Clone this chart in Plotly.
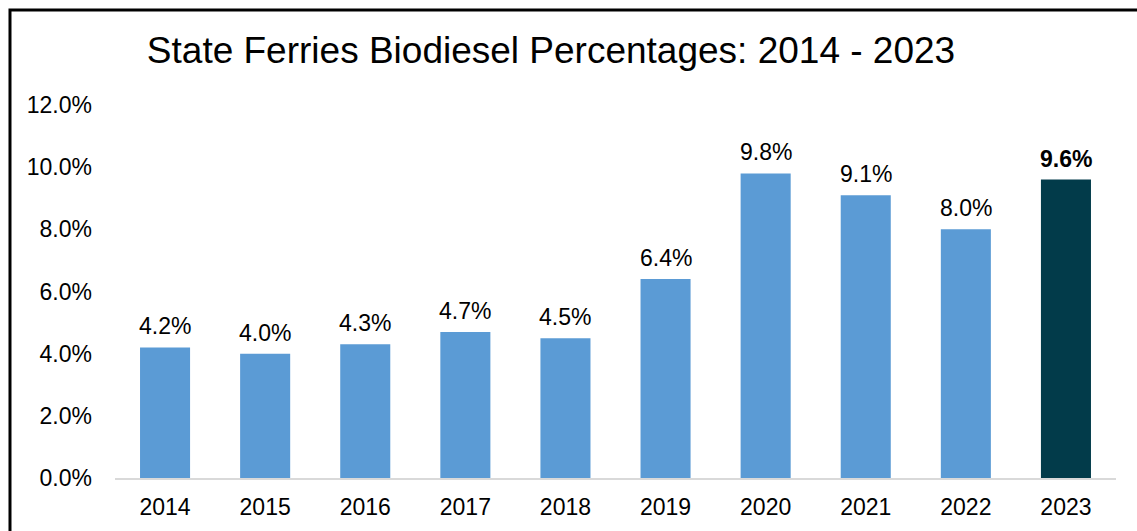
import plotly.graph_objects as go

# --- Data ---
years = ["2014", "2015", "2016", "2017", "2018", "2019", "2020", "2021", "2022", "2023"]
biodiesel_pct = [4.2, 4.0, 4.3, 4.7, 4.5, 6.4, 9.8, 9.1, 8.0, 9.6]
y_ticks = [0, 2, 4, 6, 8, 10, 12]

LIGHT = "#5B9BD5"
DARK = "#023B4A"
FONT = "Liberation Sans, Arial, sans-serif"

colors = [LIGHT] * (len(years) - 1) + [DARK]

fig = go.Figure()
fig.add_trace(go.Bar(
    x=years,
    y=biodiesel_pct,
    marker=dict(color=colors, line=dict(width=0)),
    hoverinfo="x+y",
))

# value labels above bars (last one bold); x given as category index
for i, v in enumerate(biodiesel_pct):
    label = f"{v:.1f}%"
    if i == len(years) - 1:
        label = f"<b>{label}</b>"
    fig.add_annotation(x=i, y=v, text=label, showarrow=False,
                       yanchor="bottom", yshift=6,
                       font=dict(family=FONT, size=23, color="#000000"))

# outer frame (runs off the right/bottom edges like the original)
fig.add_shape(type="rect", xref="paper", yref="paper",
              x0=-0.1049, x1=1.03, y0=-0.17, y1=1.2547,
              line=dict(color="#000000", width=3), fillcolor="rgba(0,0,0,0)")

fig.update_layout(
    width=1137,
    height=531,
    margin=dict(l=115, r=21, t=105, b=53, autoexpand=False),
    paper_bgcolor="white",
    plot_bgcolor="white",
    bargap=0.5,
    showlegend=False,
    title=dict(text="State Ferries Biodiesel Percentages: 2014 - 2023",
               x=551 / 1137, xref="container", xanchor="center",
               y=1 - 50 / 531, yref="container", yanchor="middle",
               font=dict(family=FONT, size=37, color="#000000")),
    font=dict(family=FONT, size=23, color="#000000"),
)
fig.update_yaxes(range=[0, 12], tickvals=y_ticks,
                 ticktext=[f"{t:.1f}%" for t in y_ticks],
                 showgrid=False, zeroline=False, showline=False,
                 ticks="", ticklabelstandoff=22, automargin=False,
                 tickfont=dict(family=FONT, size=23, color="#000000"))
fig.update_xaxes(type="category", range=[-0.5, len(years) - 0.5],
                 showgrid=False, showline=True,
                 linecolor="#D9D9D9", linewidth=2,
                 ticks="", ticklabelstandoff=7, automargin=False,
                 tickfont=dict(family=FONT, size=23, color="#000000"))

fig.write_html("out.html", config={"displayModeBar": False},
               post_script="document.body.style.margin='0';")
